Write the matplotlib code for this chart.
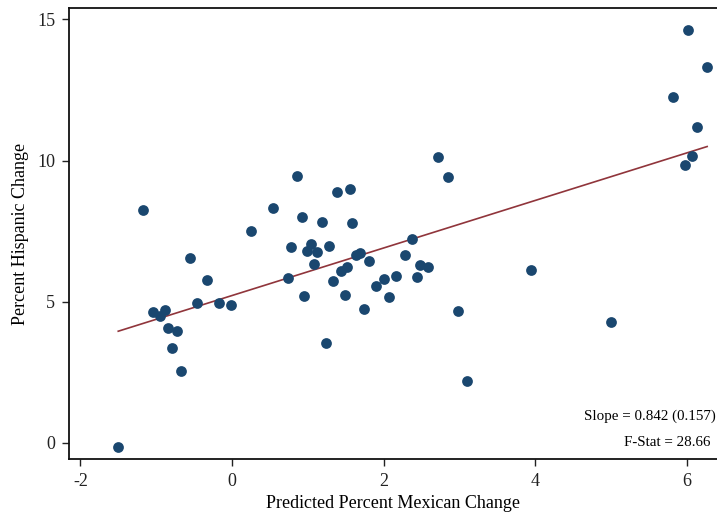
import matplotlib
matplotlib.use("Agg")
import matplotlib.pyplot as plt
import numpy as np

# values
mexican_change = [
    -1.50, -1.17, -1.04, -0.95, -0.88, -0.85, -0.79, -0.73, -0.67, -0.55,
    -0.46, -0.33, -0.17, -0.01, 0.25, 0.54, 0.74, 0.78, 0.86, 0.92,
    0.95, 0.99, 1.04, 1.08, 1.12, 1.19, 1.24, 1.28, 1.33, 1.39,
    1.44, 1.49, 1.52, 1.56, 1.58, 1.64, 1.69, 1.74, 1.81, 1.90,
    2.01, 2.07, 2.17, 2.28, 2.38, 2.44, 2.48, 2.59, 2.72, 2.85,
    2.98, 3.10, 3.95, 5.00, 5.82, 5.98, 6.02, 6.07, 6.14, 6.27,
]
hispanic_change = [
    -0.14, 8.25, 4.64, 4.50, 4.71, 4.07, 3.36, 3.96, 2.55, 6.55,
    4.96, 5.77, 4.96, 4.88, 7.50, 8.32, 5.84, 6.94, 9.45, 8.00,
    5.20, 6.80, 7.04, 6.34, 6.76, 7.82, 3.54, 6.97, 5.73, 8.89,
    6.09, 5.24, 6.23, 8.99, 7.79, 6.65, 6.72, 4.74, 6.44, 5.56,
    5.81, 5.17, 5.91, 6.65, 7.22, 5.88, 6.30, 6.23, 10.12, 9.42,
    4.67, 2.19, 6.12, 4.28, 12.25, 9.84, 14.62, 10.16, 11.19, 13.31,
]

# reported fit
slope = 0.842
slope_se = 0.157
intercept = 5.22
f_stat = 28.66

x_ticks = [-2, 0, 2, 4, 6]
y_ticks = [0, 5, 10, 15]

NAVY = '#1a476f'
MAROON = '#90353b'

plt.rcParams['font.family'] = ['Liberation Serif', 'DejaVu Serif']
plt.rcParams['axes.unicode_minus'] = False   # Stata prints a plain hyphen

fig = plt.figure(figsize=(7.17, 5.12), dpi=100)
ax = fig.add_axes([0.0962, 0.1035, 0.9038, 0.8805])

ax.scatter(mexican_change, hispanic_change, s=60, color=NAVY, zorder=3,
           linewidths=0)

xs = np.array([min(mexican_change), max(mexican_change)])
ax.plot(xs, intercept + slope * xs, color=MAROON, lw=1.2, zorder=2)

ax.set_xlim(-2.15, 6.40)
ax.set_ylim(-0.57, 15.4)
ax.set_xticks(x_ticks)
ax.set_yticks(y_ticks)
ax.tick_params(labelsize=13, length=5, width=1.0, direction='out', pad=5,
               colors='#222222')

for side in ('left', 'bottom', 'top'):
    ax.spines[side].set_linewidth(1.3)
    ax.spines[side].set_color('#111111')
ax.spines['right'].set_visible(False)

ax.set_xlabel('Predicted Percent Mexican Change', fontsize=13, labelpad=4)
ax.set_ylabel('Percent Hispanic Change', fontsize=13, labelpad=6)

ax.text(0.998, 0.095, f'Slope = {slope:.3f} ({slope_se:.3f})',
        transform=ax.transAxes, ha='right', va='center', fontsize=10.8)
ax.text(0.990, 0.036, f'F-Stat = {f_stat:.2f}',
        transform=ax.transAxes, ha='right', va='center', fontsize=10.8)

fig.savefig('out.png', dpi=100, facecolor='white')
